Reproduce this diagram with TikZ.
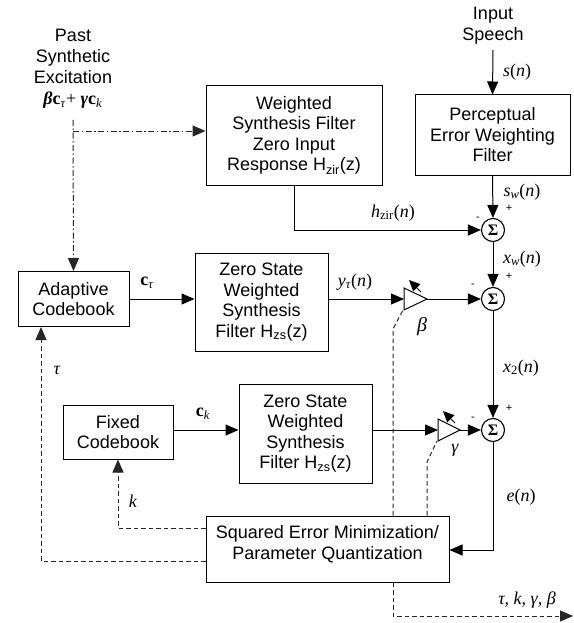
\documentclass[tikz,border=0pt]{standalone}
\usepackage{fontspec}
\setmainfont{Liberation Sans}
\newfontfamily\tms{Liberation Serif}
\usetikzlibrary{arrows.meta}
\newcommand\sg[1]{{\tms #1}}
\begin{document}
\begin{tikzpicture}[x=1pt,y=-1pt,
  box/.style={draw, line width=1pt, align=center, inner sep=0pt, font=\fontsize{18}{20.5}\selectfont},
  sum/.style={draw, circle, line width=1.1pt, minimum size=23pt, inner sep=0pt, font=\fontsize{16}{16}\selectfont\tms\bfseries},
  ln/.style={line width=1pt},
  arw/.style={ln, -{Triangle[length=13pt,width=11pt]}},
  dsh/.style={line width=1pt, black!85, dash pattern=on 4.5pt off 3pt},
  dsharw/.style={dsh, -{Triangle[length=13pt,width=11pt]}},
  dd/.style={line width=1pt, black!85, dash pattern=on 6pt off 2.5pt on 1.5pt off 2.5pt},
  ddarw/.style={dd, -{Triangle[length=13pt,width=11pt]}},
  lbl/.style={font=\fontsize{18}{20}\selectfont\tms, inner sep=0pt},
  sgn/.style={font=\fontsize{11}{11}\selectfont, inner sep=0pt},
  txt/.style={align=center, font=\fontsize{18}{21}\selectfont, inner sep=0pt}]

\useasboundingbox (0,0) rectangle (573,623);

% text blocks
\node[txt] (past) at (73,69) {Past\\Synthetic\\Excitation\\\sg{\textbf{\textit{β}}\textbf{c}\textsubscript{\textit{τ}}+ \textbf{\textit{γ}}\textbf{c}\textsubscript{\textit{k}}}};
\node[txt] (inp) at (493,26) {Input\\Speech};

% boxes
\node[box, minimum width=176pt, minimum height=99pt] (zir) at (294,135.5) {Weighted\\Synthesis Filter\\Zero Input\\Response H\textsubscript{zir}(z)};
\node[box, minimum width=155pt, minimum height=80pt] (pewf) at (492.5,135) {Perceptual\\Error Weighting\\Filter};
\node[box, minimum width=111pt, minimum height=55pt] (ac) at (73.5,299) {Adaptive\\Codebook};
\node[box, minimum width=133pt, minimum height=98pt] (zs1) at (261.5,302) {Zero State\\Weighted\\Synthesis\\Filter H\textsubscript{zs}(z)};
\node[box, minimum width=110pt, minimum height=54pt] (fc) at (118,432) {Fixed\\Codebook};
\node[box, minimum width=133pt, minimum height=99pt] (zs2) at (305.5,433.5) {Zero State\\Weighted\\Synthesis\\Filter H\textsubscript{zs}(z)};
\node[box, minimum width=243pt, minimum height=66pt] (sem) at (327.5,549) {};
\node[txt] (semtxt) at (327.5,544) {Squared Error Minimization/\\Parameter Quantization};

% summers
\node[sum] (s1) at (493,230) {Σ};
\node[sum] (s2) at (493,299) {Σ};
\node[sum] (s3) at (493,430) {Σ};

% gain triangles
\coordinate (bin) at (404,299);
\coordinate (bout) at (427,299);
\coordinate (gin) at (438,430);
\coordinate (gout) at (460,430);
\draw[ln, fill=white] (404,288) -- (bout) -- (404,310) -- cycle;
\draw[ln, fill=white] (438,419) -- (gout) -- (438,441) -- cycle;
\draw[ln, -{Triangle[length=11pt,width=10pt]}] (421,292) -- (409,280);
\draw[ln, -{Triangle[length=11pt,width=10pt]}] (455,423) -- (443,411);

% coordinates for routes
\coordinate (ddtop) at (73,120);
\coordinate (ddbr) at (73,131);
\coordinate (inpbot) at (493,50);
\coordinate (hz) at (294,230);
\coordinate (ecor) at (493,550);
\coordinate (taucor) at (41,561);
\coordinate (kcor) at (118,528);
\coordinate (bv) at (393,329);
\coordinate (bd) at (403,310);
\coordinate (gv) at (427,462);
\coordinate (gd) at (437,441);
\coordinate (obot) at (393,616);
\coordinate (oend) at (573,616);

% dash-dot excitation
\draw[ddarw] (ddtop) -- (ac.north);
\draw[ddarw] (ddbr) -- (zir.west |- ddbr);

% signal path
\draw[arw] (inpbot) -- (pewf.north);
\draw[arw] (pewf.south) -- (s1.north);
\draw[arw] (zir.south) -- (hz) -- (s1.west);
\draw[arw] (s1.south) -- (s2.north);
\draw[arw] (s2.south) -- (s3.north);
\draw[arw] (s3.south) -- (ecor) -- (sem.east |- ecor);
\draw[arw] (ac.east) -- (zs1.west |- ac.east);
\draw[arw] (zs1.east |- bin) -- (bin);
\draw[arw] (bout) -- (s2.west);
\draw[arw] (fc.east |- gin) -- (zs2.west |- gin);
\draw[arw] (zs2.east |- gin) -- (gin);
\draw[arw] (gout) -- (s3.west);

% dashed control
\draw[dsharw] (sem.west |- taucor) -- (taucor) -- (taucor |- ac.south);
\draw[dsharw] (sem.west |- kcor) -- (kcor) -- (fc.south);
\draw[dsh] (bv |- sem.north) -- (bv) -- (bd);
\draw[dsh] (gv |- sem.north) -- (gv) -- (gd);
\draw[dsharw] (obot |- sem.south) -- (obot) -- (oend);

% labels
\node[lbl] (ls) at (517,72) {\textit{s}(\textit{n})};
\node[lbl] (lsw) at (522,192) {\textit{s}\textsubscript{\textit{w}}(\textit{n})};
\node[lbl] (lhz) at (393,213) {\textit{h}\textsubscript{zir}(\textit{n})};
\node[lbl] (lxw) at (522,259) {\textit{x}\textsubscript{\textit{w}}(\textit{n})};
\node[lbl] (lyt) at (355,282) {\textit{y}\textsubscript{\textit{τ}}(\textit{n})};
\node[lbl] (lx2) at (521,368) {\textit{x}\textsubscript{2}(\textit{n})};
\node[lbl] (len) at (521,497) {\textit{e}(\textit{n})};
\node[lbl] (lct) at (147,283) {\textbf{c}\textsubscript{\textit{τ}}};
\node[lbl] (lck) at (203,414) {\textbf{c}\textsubscript{\textit{k}}};
\node[lbl] (ltau) at (57,370) {\textit{τ}};
\node[lbl] (lk) at (133,501) {\textit{k}};
\node[lbl, font=\fontsize{20}{20}\selectfont\tms] (lb) at (422,327) {\textit{β}};
\node[lbl] (lg) at (455,450) {\textit{γ}};
\node[lbl] (lout) at (527,600) {\textit{τ, k, γ, β}};

% signs
\node[sgn] at (509,208) {+};
\node[sgn] at (478,219) {-};
\node[sgn] at (509,276) {+};
\node[sgn] at (473,286) {-};
\node[sgn] at (509,408) {+};
\node[sgn] at (473,419) {-};
\end{tikzpicture}
\end{document}
